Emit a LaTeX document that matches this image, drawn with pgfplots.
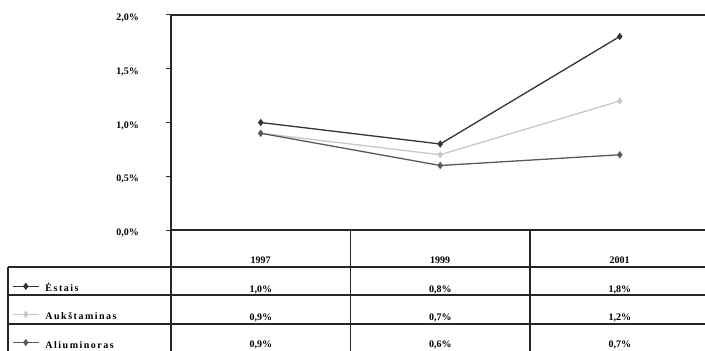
\documentclass[border=0pt]{standalone}
\usepackage{fontspec}
\setmainfont{Liberation Serif}
\newfontfamily\legfont[LetterSpace=15]{Liberation Serif}
\usepackage{pgfplots}
\pgfplotsset{compat=1.18}
\definecolor{sA}{gray}{0.2}
\definecolor{sB}{gray}{0.78}
\definecolor{sC}{gray}{0.35}
\definecolor{gridc}{gray}{0.15}
\begin{document}
\begin{tikzpicture}[x=1pt,y=1pt]
\clip (0,0) rectangle (705,351);
\begin{axis}[
  at={(171pt,121pt)}, anchor=south west,
  scale only axis, width=534pt, height=215pt,
  clip=false,
  xmin=-0.5, xmax=2.475, ymin=0, ymax=2,
  axis x line=box, axis y line=left,
  axis line style={gridc, line width=1.5pt, -},
  xtick={0,1,2}, xticklabels={1997,1999,2001},
  xtick style={draw=none}, xticklabel pos=lower,
  xticklabel style={anchor=base, yshift=-28pt, font=\bfseries\fontsize{10}{11}\selectfont},
  ytick={0,0.5,1,1.5,2},
  yticklabels={{0,0\%},{0,5\%},{1,0\%},{1,5\%},{2,0\%}},
  ytick pos=left, tick align=outside, major tick length=5pt,
  ytick style={gridc, line width=1pt},
  yticklabel style={anchor=east, inner sep=0pt, xshift=-27pt, yshift=-3pt, font=\bfseries\fontsize{10}{11}\selectfont},
  /pgf/number format/assume math mode=true,
  legend style={at={(axis description cs:-0.2978,-0.2490)}, anchor=north west,
    draw=none, fill=none, inner sep=0pt, row sep=18pt,
    nodes={inner sep=0pt, text height=7pt, text depth=2pt, font=\legfont\bfseries\fontsize{10}{11}\selectfont},
    /tikz/every odd column/.append style={column sep=6pt}},
  legend cell align=left,
  legend image code/.code={\draw[mark repeat=2,mark phase=2] plot coordinates {(0pt,3pt)(13pt,3pt)(26pt,3pt)};},
]
\addplot[sA, line width=1.3pt, mark=diamond*, mark size=2.6pt, mark options={solid}] coordinates {(0,1.0) (1,0.8) (2,1.8)};
\addlegendentry{Ėstais}
\addplot[sB, line width=1.3pt, mark=diamond*, mark size=2.6pt] coordinates {(0,0.9) (1,0.7) (2,1.2)};
\addlegendentry{Aukštaminas}
\addplot[sC, line width=1.3pt, mark=diamond*, mark size=2.6pt] coordinates {(0,0.9) (1,0.6) (2,0.7)};
\addlegendentry{Aliuminoras}
\end{axis}
% table grid
\begin{scope}[gridc, line width=1.5pt]
\draw (171,121) -- (171,0);
\draw (350.5,121) -- (350.5,0);
\draw (530,121) -- (530,0);
\draw (8,84) -- (705,84);
\draw (8,56) -- (705,56);
\draw (8,27) -- (705,27);
\draw (8,84) -- (8,0);
\end{scope}
\begin{scope}[every node/.style={anchor=base, inner sep=0pt, font=\bfseries\fontsize{10}{11}\selectfont}]
\node at (260.75,58) {1,0\%};
\node at (440.25,58) {0,8\%};
\node at (619.75,58) {1,8\%};
\node at (260.75,30) {0,9\%};
\node at (440.25,30) {0,7\%};
\node at (619.75,30) {1,2\%};
\node at (260.75,3) {0,9\%};
\node at (440.25,3) {0,6\%};
\node at (619.75,3) {0,7\%};
\end{scope}
\end{tikzpicture}
\end{document}
